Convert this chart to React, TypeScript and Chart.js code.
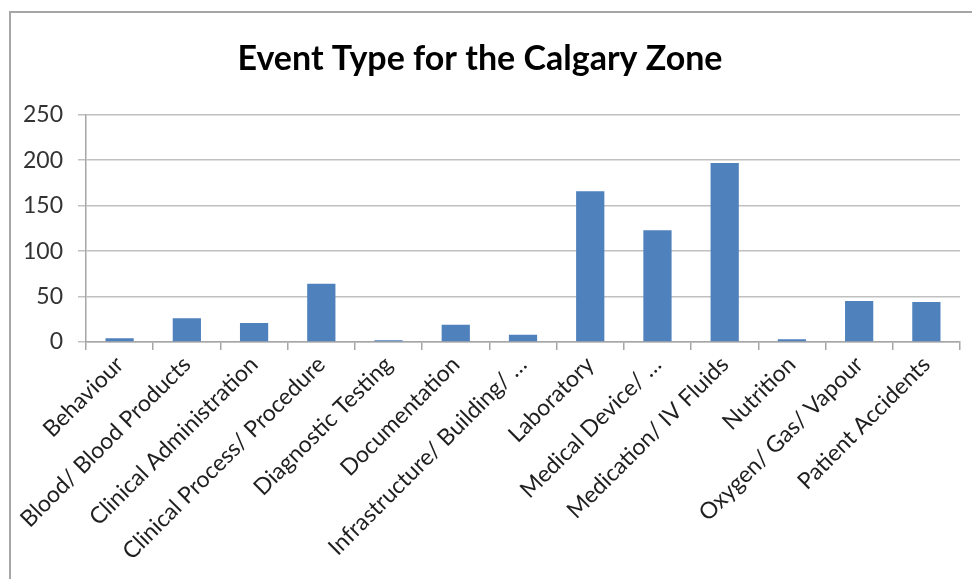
import React, { useEffect, useRef } from "react";
import { Chart, registerables } from "chart.js";

Chart.register(...registerables);

const TITLE = "Event Type for the Calgary Zone";
const categories = [
  "Behaviour",
  "Blood/ Blood Products",
  "Clinical Administration",
  "Clinical Process/ Procedure",
  "Diagnostic Testing",
  "Documentation",
  "Infrastructure/ Building/ …",
  "Laboratory",
  "Medical Device/ …",
  "Medication/ IV Fluids",
  "Nutrition",
  "Oxygen/ Gas/ Vapour",
  "Patient Accidents",
];
const counts = [4, 26, 21, 64, 2, 19, 8, 166, 123, 197, 3, 45, 44];
const yTicks = [0, 50, 100, 150, 200, 250];

const FONT = "Lato, 'Open Sans', sans-serif";

const frame = {
  id: "frame",
  beforeDraw(chart: any) {
    const ctx = chart.ctx;
    ctx.save();
    ctx.fillStyle = "#ffffff";
    ctx.fillRect(0, 0, chart.width, chart.height);
    ctx.strokeStyle = "#a6a6a6";
    ctx.lineWidth = 2;
    ctx.beginPath();
    ctx.moveTo(10, chart.height + 5);
    ctx.lineTo(10, 12);
    ctx.lineTo(chart.width + 5, 12);
    ctx.stroke();
    ctx.restore();
  },
};

export default function App() {
  const ref = useRef<HTMLCanvasElement | null>(null);
  useEffect(() => {
    if (!ref.current) return;
    const chart = new Chart(ref.current, {
      type: "bar",
      data: {
        labels: categories,
        datasets: [
          {
            label: "Events",
            data: counts,
            backgroundColor: "#4f81bd",
            borderWidth: 0,
            barPercentage: 0.42,
            categoryPercentage: 1,
          },
        ],
      },
      options: {
        responsive: false,
        animation: false,
        devicePixelRatio: 1,
        layout: { padding: { left: 0, right: 12, top: 0, bottom: 0 } },
        plugins: {
          legend: { display: false },
          tooltip: { enabled: false },
          title: {
            display: true,
            text: TITLE,
            color: "#000000",
            font: { family: FONT, size: 34, weight: "bold", lineHeight: 1.2 },
            padding: { top: 39, bottom: 35 },
          },
        },
        scales: {
          x: {
            offset: true,
            grid: {
              offset: true,
              drawOnChartArea: false,
              drawTicks: true,
              tickLength: 8,
              color: "#a6a6a6",
              lineWidth: 1.5,
            },
            border: { display: true, color: "#a6a6a6", width: 1.5 },
            ticks: {
              autoSkip: false,
              maxRotation: 45,
              minRotation: 45,
              color: "#1f1f1f",
              padding: 1,
              font: { family: FONT, size: 23 },
            },
            afterFit(scale: any) {
              scale.height = 237;
            },
          },
          y: {
            min: 0,
            max: 250,
            afterBuildTicks(scale: any) {
              scale.ticks = yTicks.map((v) => ({ value: v }));
            },
            grid: {
              color: "#c0c0c0",
              lineWidth: 1.5,
              drawTicks: true,
              tickLength: 8,
            },
            border: { display: true, color: "#a6a6a6", width: 1.5 },
            ticks: {
              color: "#333333",
              padding: 15,
              font: { family: FONT, size: 23 },
            },
            afterFit(scale: any) {
              scale.width = 86;
            },
          },
        },
      },
      plugins: [frame],
    });
    return () => chart.destroy();
  }, []);
  return (
    <div style={{ position: "fixed", left: 0, top: 0, width: 972, height: 579 }}>
      <canvas ref={ref} width={972} height={579} style={{ width: 972, height: 579, display: "block" }} />
    </div>
  );
}
